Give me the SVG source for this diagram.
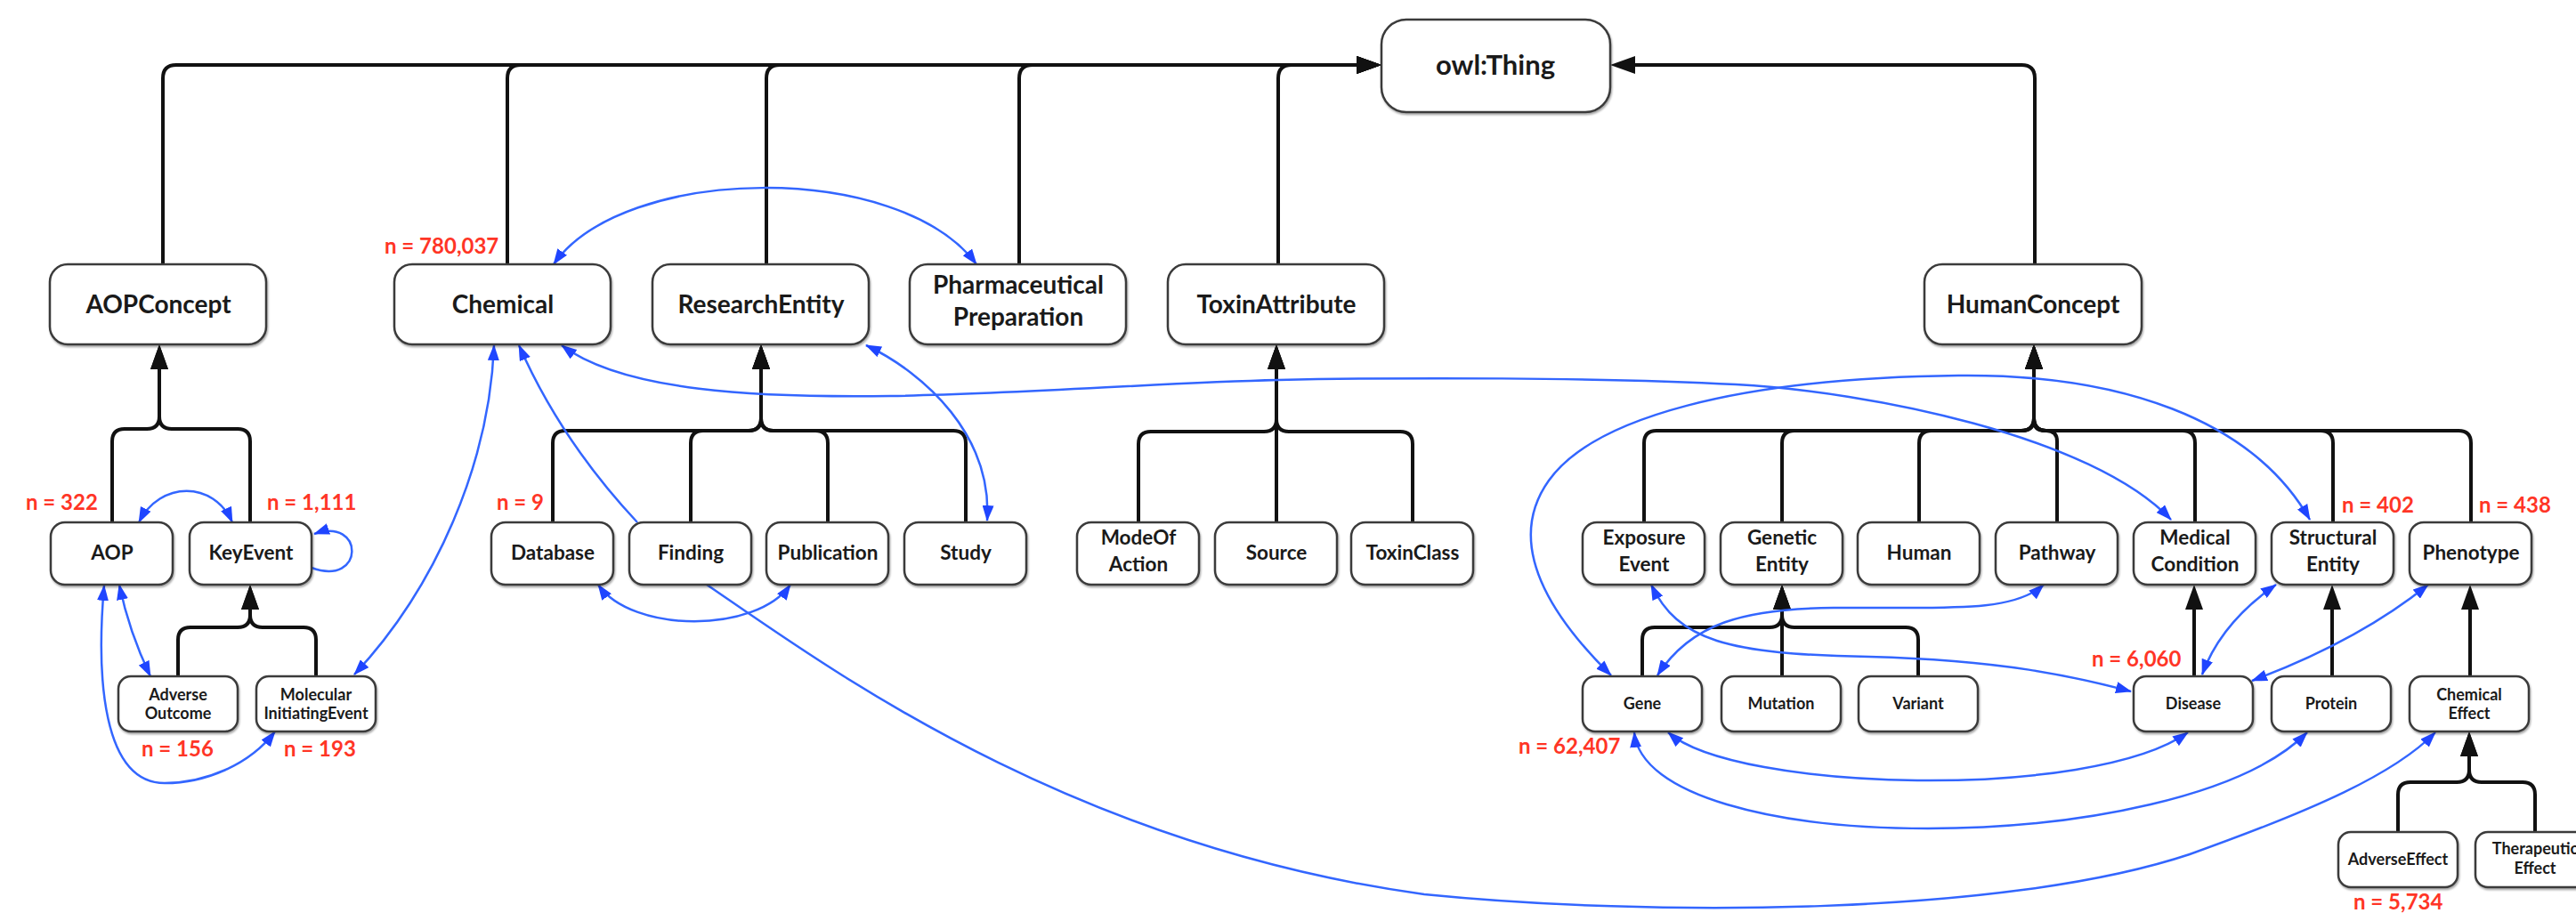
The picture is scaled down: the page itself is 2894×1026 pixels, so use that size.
<svg xmlns="http://www.w3.org/2000/svg" width="2894" height="1026" viewBox="0 0 2894 1026">
  <style>
    .box { fill: #ffffff; stroke: #3a3a3a; stroke-width: 2.5; filter: url(#sh); }
    .lbl { font-family: Lato, "Liberation Sans", sans-serif; font-weight: bold; fill: #1a1a1a; text-anchor: middle; }
    .t0 { font-size: 31px; }
    .t1 { font-size: 28px; }
    .t2 { font-size: 22.5px; }
    .t3 { font-size: 18px; }
    .cnt { font-family: Lato, "Liberation Sans", sans-serif; font-weight: bold; font-size: 24px; fill: #ff3526; }
    .isa { fill: none; stroke: #111111; stroke-width: 4; marker-end: url(#ah); }
    .rel { fill: none; stroke: #3366ff; stroke-width: 2.5; marker-start: url(#bh); marker-end: url(#bh); }
    .rel1 { fill: none; stroke: #3366ff; stroke-width: 2.5; marker-end: url(#bh); }
  </style>
  <defs>
    <filter id="sh" x="-10%" y="-10%" width="120%" height="130%">
      <feDropShadow dx="1" dy="2" stdDeviation="1" flood-color="#000000" flood-opacity="0.35"/>
    </filter>
    <marker id="ah" viewBox="0 0 28 20" refX="20" refY="10" markerWidth="28" markerHeight="20" markerUnits="userSpaceOnUse" orient="auto">
      <path d="M0,0 L28,10 L0,20 z" fill="#111111"/>
    </marker>
    <marker id="bh" viewBox="0 0 18 13" refX="17" refY="6.5" markerWidth="18" markerHeight="13" markerUnits="userSpaceOnUse" orient="auto-start-reverse">
      <path d="M0,0 L18,6.5 L0,13 z" fill="#1f45ff"/>
    </marker>
  </defs>

  <!-- subclass (is-a) edges -->
  <g id="connectors-isa">
    <!-- to owl:Thing -->
    <path class="isa" d="M183 297 V88 Q183 73 198 73 H1544"/>
    <path class="isa" d="M570 297 V88 Q570 73 585 73 H1544"/>
    <path class="isa" d="M861 297 V88 Q861 73 876 73 H1544"/>
    <path class="isa" d="M1145 297 V88 Q1145 73 1160 73 H1544"/>
    <path class="isa" d="M1436 297 V88 Q1436 73 1451 73 H1544"/>
    <path class="isa" d="M2286 297 V88 Q2286 73 2271 73 H1817"/>
    <!-- AOPConcept -->
    <path class="isa" d="M126 587 V496 Q126 482 140 482 H165 Q179 482 179 468 V395"/>
    <path class="isa" d="M281 587 V496 Q281 482 267 482 H193 Q179 482 179 468 V395"/>
    <!-- ResearchEntity -->
    <path class="isa" d="M621 587 V498 Q621 484 635 484 H841 Q855 484 855 470 V395"/>
    <path class="isa" d="M776 587 V498 Q776 484 790 484 H841 Q855 484 855 470 V395"/>
    <path class="isa" d="M930 587 V498 Q930 484 916 484 H869 Q855 484 855 470 V395"/>
    <path class="isa" d="M1085 587 V498 Q1085 484 1071 484 H869 Q855 484 855 470 V395"/>
    <!-- ToxinAttribute -->
    <path class="isa" d="M1279 587 V499 Q1279 485 1293 485 H1420 Q1434 485 1434 471 V395"/>
    <path class="isa" d="M1434 587 V395"/>
    <path class="isa" d="M1587 587 V499 Q1587 485 1573 485 H1448 Q1434 485 1434 471 V395"/>
    <!-- HumanConcept -->
    <path class="isa" d="M1847 587 V498 Q1847 484 1861 484 H2271 Q2285 484 2285 470 V395"/>
    <path class="isa" d="M2002 587 V498 Q2002 484 2016 484 H2271 Q2285 484 2285 470 V395"/>
    <path class="isa" d="M2156 587 V498 Q2156 484 2170 484 H2271 Q2285 484 2285 470 V395"/>
    <path class="isa" d="M2311 587 V496 Q2311 484 2299 484 H2297 Q2285 484 2285 472 V395"/>
    <path class="isa" d="M2466 587 V498 Q2466 484 2452 484 H2299 Q2285 484 2285 470 V395"/>
    <path class="isa" d="M2621 587 V498 Q2621 484 2607 484 H2299 Q2285 484 2285 470 V395"/>
    <path class="isa" d="M2776 587 V498 Q2776 484 2762 484 H2299 Q2285 484 2285 470 V395"/>
    <!-- KeyEvent -->
    <path class="isa" d="M200 760 V719 Q200 705 214 705 H267 Q281 705 281 691 V665"/>
    <path class="isa" d="M355 760 V719 Q355 705 341 705 H295 Q281 705 281 691 V665"/>
    <!-- GeneticEntity -->
    <path class="isa" d="M1845 760 V719 Q1845 705 1859 705 H1988 Q2002 705 2002 691 V665"/>
    <path class="isa" d="M2002 760 V665"/>
    <path class="isa" d="M2155 760 V719 Q2155 705 2141 705 H2016 Q2002 705 2002 691 V665"/>
    <!-- single parents -->
    <path class="isa" d="M2465 760 V665"/>
    <path class="isa" d="M2620 760 V665"/>
    <path class="isa" d="M2775 760 V665"/>
    <!-- ChemicalEffect -->
    <path class="isa" d="M2694 935 V893 Q2694 879 2708 879 H2760 Q2774 879 2774 865 V830"/>
    <path class="isa" d="M2848 935 V893 Q2848 879 2834 879 H2788 Q2774 879 2774 865 V830"/>
  </g>

  <!-- object property edges -->
  <g id="connectors-rel">
    <path class="rel" d="M622 297 C700 185, 1010 180, 1097 297"/>
    <path class="rel1" d="M716 587 Q630 495 583 388"/>
    <path class="rel" d="M555 388 C550 520, 490 660, 398 758"/>
    <path class="rel" d="M631 388 C700 440, 850 447, 1000 445 S1300 430, 1436 427 S1800 424, 1950 432 C2100 440, 2350 490, 2439 584"/>
    <path class="rel" d="M1810 759 C1740 690, 1690 610, 1740 540 C1790 470, 1950 425, 2200 422 C2380 420, 2530 470, 2595 584"/>
    <path class="rel" d="M973 388 C1040 420, 1115 490, 1109 585"/>
    <path class="rel" d="M672 657 C710 712, 850 712, 888 657"/>
    <path class="rel1" d="M794 657 C930 750, 1200 950, 1600 1005 C1850 1030, 2250 1030, 2460 960 C2600 910, 2690 870, 2736 823"/>
    <path class="rel" d="M1862 759 C1900 700, 1960 684, 2060 683 C2180 682, 2260 690, 2296 657"/>
    <path class="rel" d="M1855 657 C1885 720, 1940 735, 2100 738 C2250 742, 2330 760, 2394 777"/>
    <path class="rel" d="M2474 758 Q2495 700 2557 657"/>
    <path class="rel" d="M2530 765 Q2650 720 2728 657"/>
    <path class="rel" d="M1874 823 C1950 890, 2350 900, 2458 823"/>
    <path class="rel" d="M1836 823 C1850 967, 2450 967, 2592 823"/>
    <path class="rel" d="M156 587 C180 540, 240 540, 261 587"/>
    <path class="rel1" d="M350 638 C410 660, 410 580, 353 600"/>
    <path class="rel" d="M134 657 Q145 710 169 760"/>
    <path class="rel" d="M117 658 C108 760, 115 880, 185 880 C230 880, 280 860, 309 822"/>
  </g>

  <!-- nodes -->
  <g id="n-owlthing"><rect class="box" x="1552" y="22" width="257" height="104" rx="28"/><text class="lbl t0" x="1680" y="84">owl:Thing</text></g>

  <g id="n-aopconcept"><rect class="box" x="56" y="297" width="243" height="90" rx="20"/><text class="lbl t1" x="178" y="352">AOPConcept</text></g>
  <g id="n-chemical"><rect class="box" x="443" y="297" width="243" height="90" rx="20"/><text class="lbl t1" x="565" y="352">Chemical</text></g>
  <g id="n-researchentity"><rect class="box" x="733" y="297" width="243" height="90" rx="20"/><text class="lbl t1" x="855" y="352">ResearchEntity</text></g>
  <g id="n-pharmaceuticalpreparation"><rect class="box" x="1022" y="297" width="243" height="90" rx="20"/><text class="lbl t1" x="1144" y="330">Pharmaceutical</text><text class="lbl t1" x="1144" y="366">Preparation</text></g>
  <g id="n-toxinattribute"><rect class="box" x="1312" y="297" width="243" height="90" rx="20"/><text class="lbl t1" x="1434" y="352">ToxinAttribute</text></g>
  <g id="n-humanconcept"><rect class="box" x="2162" y="297" width="244" height="90" rx="20"/><text class="lbl t1" x="2284" y="352">HumanConcept</text></g>

  <g id="n-aop"><rect class="box" x="57" y="587" width="137" height="70" rx="16"/><text class="lbl t2" x="126" y="629">AOP</text></g>
  <g id="n-keyevent"><rect class="box" x="213" y="587" width="137" height="70" rx="16"/><text class="lbl t2" x="282" y="629">KeyEvent</text></g>
  <g id="n-database"><rect class="box" x="552" y="587" width="137" height="70" rx="16"/><text class="lbl t2" x="621" y="629">Database</text></g>
  <g id="n-finding"><rect class="box" x="707" y="587" width="137" height="70" rx="16"/><text class="lbl t2" x="776" y="629">Finding</text></g>
  <g id="n-publication"><rect class="box" x="861" y="587" width="137" height="70" rx="16"/><text class="lbl t2" x="930" y="629">Publication</text></g>
  <g id="n-study"><rect class="box" x="1016" y="587" width="137" height="70" rx="16"/><text class="lbl t2" x="1085" y="629">Study</text></g>
  <g id="n-modeofaction"><rect class="box" x="1210" y="587" width="137" height="70" rx="16"/><text class="lbl t2" x="1279" y="612">ModeOf</text><text class="lbl t2" x="1279" y="642">Action</text></g>
  <g id="n-source"><rect class="box" x="1365" y="587" width="137" height="70" rx="16"/><text class="lbl t2" x="1434" y="629">Source</text></g>
  <g id="n-toxinclass"><rect class="box" x="1518" y="587" width="137" height="70" rx="16"/><text class="lbl t2" x="1587" y="629">ToxinClass</text></g>
  <g id="n-exposureevent"><rect class="box" x="1778" y="587" width="137" height="70" rx="16"/><text class="lbl t2" x="1847" y="612">Exposure</text><text class="lbl t2" x="1847" y="642">Event</text></g>
  <g id="n-geneticentity"><rect class="box" x="1933" y="587" width="137" height="70" rx="16"/><text class="lbl t2" x="2002" y="612">Genetic</text><text class="lbl t2" x="2002" y="642">Entity</text></g>
  <g id="n-human"><rect class="box" x="2087" y="587" width="137" height="70" rx="16"/><text class="lbl t2" x="2156" y="629">Human</text></g>
  <g id="n-pathway"><rect class="box" x="2242" y="587" width="137" height="70" rx="16"/><text class="lbl t2" x="2311" y="629">Pathway</text></g>
  <g id="n-medicalcondition"><rect class="box" x="2397" y="587" width="137" height="70" rx="16"/><text class="lbl t2" x="2466" y="612">Medical</text><text class="lbl t2" x="2466" y="642">Condition</text></g>
  <g id="n-structuralentity"><rect class="box" x="2552" y="587" width="137" height="70" rx="16"/><text class="lbl t2" x="2621" y="612">Structural</text><text class="lbl t2" x="2621" y="642">Entity</text></g>
  <g id="n-phenotype"><rect class="box" x="2707" y="587" width="137" height="70" rx="16"/><text class="lbl t2" x="2776" y="629">Phenotype</text></g>

  <g id="n-adverseoutcome"><rect class="box" x="133" y="760" width="134" height="62" rx="14"/><text class="lbl t3" x="200" y="787">Adverse</text><text class="lbl t3" x="200" y="808">Outcome</text></g>
  <g id="n-molecularinitiatingevent"><rect class="box" x="288" y="760" width="134" height="62" rx="14"/><text class="lbl t3" x="355" y="787">Molecular</text><text class="lbl t3" x="355" y="808">InitiatingEvent</text></g>
  <g id="n-gene"><rect class="box" x="1778" y="760" width="134" height="62" rx="14"/><text class="lbl t3" x="1845" y="797">Gene</text></g>
  <g id="n-mutation"><rect class="box" x="1934" y="760" width="134" height="62" rx="14"/><text class="lbl t3" x="2001" y="797">Mutation</text></g>
  <g id="n-variant"><rect class="box" x="2088" y="760" width="134" height="62" rx="14"/><text class="lbl t3" x="2155" y="797">Variant</text></g>
  <g id="n-disease"><rect class="box" x="2397" y="760" width="134" height="62" rx="14"/><text class="lbl t3" x="2464" y="797">Disease</text></g>
  <g id="n-protein"><rect class="box" x="2552" y="760" width="134" height="62" rx="14"/><text class="lbl t3" x="2619" y="797">Protein</text></g>
  <g id="n-chemicaleffect"><rect class="box" x="2707" y="760" width="134" height="62" rx="14"/><text class="lbl t3" x="2774" y="787">Chemical</text><text class="lbl t3" x="2774" y="808">Effect</text></g>

  <g id="n-adverseeffect"><rect class="box" x="2627" y="935" width="134" height="62" rx="14"/><text class="lbl t3" x="2694" y="972">AdverseEffect</text></g>
  <g id="n-therapeuticeffect"><rect class="box" x="2781" y="935" width="134" height="62" rx="14"/><text class="lbl t3" x="2848" y="960">Therapeutic</text><text class="lbl t3" x="2848" y="982">Effect</text></g>

  <!-- instance counts -->
  <g id="counts">
    <text class="cnt" x="432" y="285">n = 780,037</text>
    <text class="cnt" x="29" y="573">n = 322</text>
    <text class="cnt" x="300" y="573">n = 1,111</text>
    <text class="cnt" x="159" y="850">n = 156</text>
    <text class="cnt" x="319" y="850">n = 193</text>
    <text class="cnt" x="558" y="573">n = 9</text>
    <text class="cnt" x="1706" y="847">n = 62,407</text>
    <text class="cnt" x="2350" y="749">n = 6,060</text>
    <text class="cnt" x="2631" y="576">n = 402</text>
    <text class="cnt" x="2785" y="576">n = 438</text>
    <text class="cnt" x="2644" y="1022">n = 5,734</text>
  </g>
</svg>
